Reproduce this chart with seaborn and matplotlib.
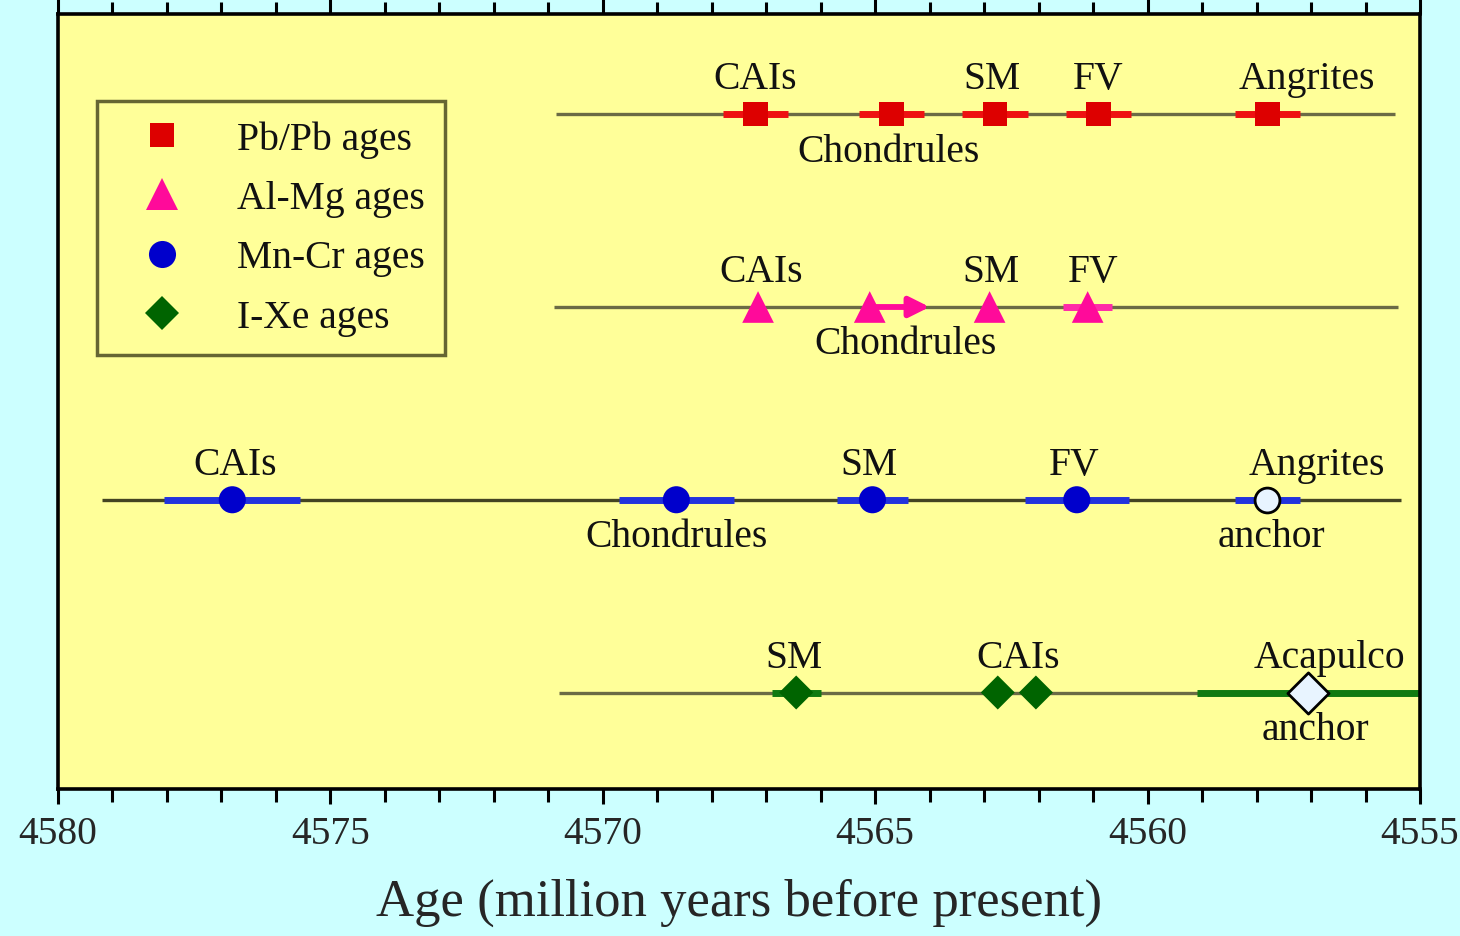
import numpy as np
import pandas as pd
import matplotlib
matplotlib.use("Agg")
import matplotlib.pyplot as plt
import seaborn as sns

# ---------------- data ----------------
methods = ["Pb/Pb ages", "Al-Mg ages", "Mn-Cr ages", "I-Xe ages"]
method_row = [4, 3, 2, 1]

pb_names = ["CAIs", "Chondrules", "SM", "FV", "Angrites"]
pb_age = [4567.2, 4564.7, 4562.8, 4560.9, 4557.8]
pb_err = [0.6, 0.6, 0.6, 0.6, 0.6]

almg_names = ["CAIs", "Chondrules", "SM", "FV"]
almg_age = [4567.15, 4565.1, 4562.9, 4561.1]
almg_err = [0.0, 0.0, 0.0, 0.45]
almg_chondrule_limit = 4564.0   # arrow: lower limit on age difference

mncr_names = ["CAIs", "Chondrules", "SM", "FV"]
mncr_age = [4576.8, 4568.65, 4565.05, 4561.3]
mncr_err = [1.25, 1.05, 0.65, 0.95]
mncr_anchor_name = "Angrites"
mncr_anchor_age = 4557.8
mncr_anchor_err = 0.6

ixe_names = ["SM", "CAIs", "CAIs"]
ixe_age = [4566.45, 4562.75, 4562.05]
ixe_err = [0.45, 0.0, 0.0]
ixe_anchor_name = "Acapulco"
ixe_anchor_age = 4557.05
ixe_anchor_err = 2.05

row_span = {  # extent of the grey guide line for each method
    "Pb/Pb ages": (4570.85, 4555.45),
    "Al-Mg ages": (4570.9, 4555.4),
    "Mn-Cr ages": (4579.2, 4555.35),
    "I-Xe ages": (4570.8, 4555.0),
}

xticks = [4580, 4575, 4570, 4565, 4560, 4555]
xlabel = "Age (million years before present)"

# ---------------- styling ----------------
colors = {"Pb/Pb ages": "#dd0000", "Al-Mg ages": "#ff0a9a",
          "Mn-Cr ages": "#0000cc", "I-Xe ages": "#006400"}
err_colors = {"Pb/Pb ages": "#ee1111", "Al-Mg ages": "#ff2aa8",
              "Mn-Cr ages": "#2233dd", "I-Xe ages": "#117a11"}
markers = {"Pb/Pb ages": "s", "Al-Mg ages": "^", "Mn-Cr ages": "o", "I-Xe ages": "D"}
msizes = {"Pb/Pb ages": 310, "Al-Mg ages": 520, "Mn-Cr ages": 380, "I-Xe ages": 300}

sns.set_theme(style="ticks")
plt.rcParams["font.family"] = ["Liberation Serif", "DejaVu Serif"]

fig = plt.figure(figsize=(14.6, 9.37), dpi=100, facecolor="#ccffff")
ax = fig.add_axes([0.0397, 0.157, 0.9329, 0.827])
ax.set_facecolor("#ffff99")

# build table
recs = []
for m, names, ages, errs in [("Pb/Pb ages", pb_names, pb_age, pb_err),
                             ("Al-Mg ages", almg_names, almg_age, almg_err),
                             ("Mn-Cr ages", mncr_names, mncr_age, mncr_err),
                             ("I-Xe ages", ixe_names, ixe_age, ixe_err)]:
    r = method_row[methods.index(m)]
    for n, a, e in zip(names, ages, errs):
        recs.append(dict(method=m, name=n, age=a, err=e, row=r))
df = pd.DataFrame(recs)

anchors = pd.DataFrame([
    dict(method="Mn-Cr ages", name=mncr_anchor_name, age=mncr_anchor_age,
         err=mncr_anchor_err, row=method_row[2]),
    dict(method="I-Xe ages", name=ixe_anchor_name, age=ixe_anchor_age,
         err=ixe_anchor_err, row=method_row[3]),
])

# guide lines
for m, r in zip(methods, method_row):
    lo, hi = row_span[m]
    c = "#444422" if m == "Mn-Cr ages" else "#6b6b45"
    ax.hlines(r, lo, hi, color=c, lw=2.4, zorder=1)

# error bars
for d in (df, anchors):
    for _, rec in d.iterrows():
        if rec.err > 0:
            ax.hlines(rec.row, rec.age - rec.err, rec.age + rec.err,
                      color=err_colors[rec.method], lw=5, zorder=2)

# arrow for Al-Mg chondrules
ax.annotate("", xy=(almg_chondrule_limit, method_row[1]),
            xytext=(almg_age[1], method_row[1]),
            arrowprops=dict(arrowstyle="-|>", color=colors["Al-Mg ages"],
                            lw=4.2, mutation_scale=30, shrinkA=0, shrinkB=0),
            zorder=2)

# points
sns.scatterplot(data=df, x="age", y="row", hue="method", style="method",
                size="method", hue_order=methods, style_order=methods,
                size_order=methods, palette=colors, markers=markers,
                sizes=msizes, linewidth=0, ax=ax, zorder=3, legend="full")

# anchors (open symbols)
anchor_markers = {"Mn-Cr ages": "o", "I-Xe ages": "D"}
anchor_sizes = {"Mn-Cr ages": 320, "I-Xe ages": 440}
for _, rec in anchors.iterrows():
    sns.scatterplot(x=[rec.age], y=[rec.row], marker=anchor_markers[rec.method],
                    s=anchor_sizes[rec.method], color="#e8f4ff",
                    edgecolor="black", linewidth=2, ax=ax, zorder=4, legend=False)

# labels: (row, text, x, dx, above?)
label_layout = [
    (4, "CAIs", pb_age[0], 0.0, True), (4, "Chondrules", pb_age[1], 0.05, False),
    (4, "SM", pb_age[2], 0.05, True), (4, "FV", pb_age[3], 0.0, True),
    (4, "Angrites", pb_age[4], -0.73, True),
    (3, "CAIs", almg_age[0], -0.05, True), (3, "Chondrules", almg_age[1], -0.65, False),
    (3, "SM", almg_age[2], -0.03, True), (3, "FV", almg_age[3], -0.1, True),
    (2, "CAIs", mncr_age[0], -0.05, True), (2, "Chondrules", mncr_age[1], 0.0, False),
    (2, "SM", mncr_age[2], 0.07, True), (2, "FV", mncr_age[3], 0.05, True),
    (2, mncr_anchor_name, mncr_anchor_age, -0.9, True),
    (2, "anchor", mncr_anchor_age, -0.07, False),
    (1, "SM", ixe_age[0], 0.05, True), (1, "CAIs", ixe_age[1], -0.37, True),
    (1, ixe_anchor_name, ixe_anchor_age, -0.38, True),
    (1, "anchor", ixe_anchor_age, -0.13, False),
]
for r, t, x, dx, above in label_layout:
    ax.annotate(t, xy=(x + dx, r), xytext=(0, 25.5 if above else -26.5),
                textcoords="offset points", ha="center", va="center",
                fontsize=28.5, color="#111111", zorder=5)

ax.set_xlim(4580, 4555)
ax.set_ylim(0.5, 4.52)
ax.set_xticks(xticks)
ax.set_xticks(np.arange(4555, 4581, 1), minor=True)
ax.set_xticklabels([str(t) for t in xticks], fontsize=28.5)
ax.set_yticks([])
ax.set_ylabel("")
ax.set_xlabel(xlabel, fontsize=38, labelpad=18)
ax.tick_params(axis="x", which="major", direction="out", top=True, length=11,
               width=2.2, color="black", pad=8)
ax.tick_params(axis="x", which="minor", direction="out", top=True, length=9,
               width=2.2, color="black")
for s in ax.spines.values():
    s.set_color("black")
    s.set_linewidth(2.6)

# legend
h, l = ax.get_legend_handles_labels()
pairs = [(hh, ll) for hh, ll in zip(h, l) if ll in methods]
leg = ax.legend([p[0] for p in pairs], [p[1] for p in pairs],
                loc="upper left", bbox_to_anchor=(0.0286, 0.888),
                borderaxespad=0, fontsize=28.5, frameon=True, fancybox=False,
                facecolor="#ffff99", edgecolor="#666633", framealpha=1,
                labelspacing=0.56, handletextpad=0.75, borderpad=0.5,
                handlelength=2.3)
leg.get_frame().set_linewidth(2.5)
for t in leg.get_texts():
    t.set_color("#111111")

fig.savefig("out.png", dpi=100, facecolor=fig.get_facecolor())
